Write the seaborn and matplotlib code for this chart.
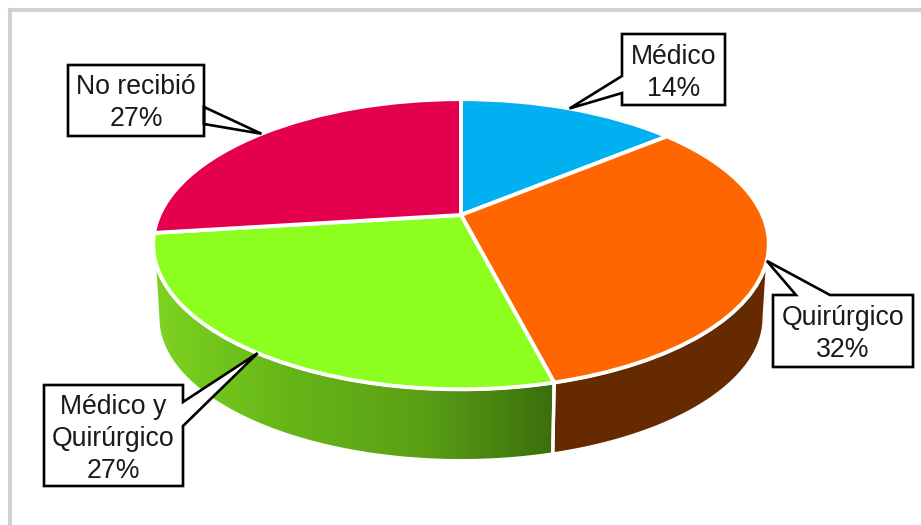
import matplotlib
matplotlib.use("Agg")
import matplotlib.pyplot as plt
from matplotlib.patches import Polygon
from matplotlib.transforms import Transform
import numpy as np
import seaborn as sns

# Treatment received, share of patients (%)
categories = ["Médico", "Quirúrgico", "Médico y Quirúrgico", "No recibió"]
shares = [14, 32, 27, 27]
label_lines = ["Médico", "Quirúrgico", "Médico y\nQuirúrgico", "No recibió"]

top_colors = ["#00B0F0", "#FF6600", "#8DFF1E", "#E4004F"]
side_stops = [None, ["#662A00", "#662A00"], ["#7DD321", "#66B618", "#5BA015", "#3A6E0C"], None]

# Disc geometry in figure pixels
CX, CY = 461.0, 215.0
RX, RY = 301.5, 139.2
TILT = 0.2014
DEPTH, BASE_SCALE = 74.0, 0.985

# Callout boxes (left, top, right, bottom) and where each tail leaves its box
boxes = [(622, 34, 725, 105), (773, 295, 913, 367), (44, 385, 183, 486), (68, 65, 204, 136)]
tail_roots = [
    [(622, 93), (622, 76)],
    [(830, 295), (796, 295)],
    [(183, 426), (183, 402)],
    [(204, 107), (204, 124)],
]


def project(x, y, depth=0.0, scale=1.0):
    """Map unit-disc coordinates to the tilted disc seen in perspective."""
    x, y = np.asarray(x, float), np.asarray(y, float)
    w = 1.0 + TILT * y
    return CX + scale * RX * x / w, CY + depth - scale * RY * y / w


class DiscPerspective(Transform):
    input_dims = output_dims = 2
    is_separable = False

    def transform_non_affine(self, values):
        values = np.asarray(values, float)
        return np.column_stack(project(values[:, 0], values[:, 1]))


sns.set_theme(style="white")
plt.rcParams["font.family"] = ["Liberation Sans", "DejaVu Sans"]

fig = plt.figure(figsize=(9.21, 5.25), dpi=100, facecolor="white")
ax = fig.add_axes([10 / 921, 0, 911 / 921, 515 / 525])

# Top face of the pie
wedges, _ = ax.pie(
    shares,
    colors=top_colors,
    startangle=90,
    counterclock=False,
    labeldistance=None,
    wedgeprops={
        "edgecolor": "white",
        "linewidth": 2.8,
        "transform": DiscPerspective() + ax.transData,
        "zorder": 3,
    },
)

ax.set_aspect("auto")
ax.set_frame_on(True)

# Side wall, visible only along the front of the disc
front_from = -180.0 + np.degrees(np.arcsin(TILT))
front_to = -np.degrees(np.arcsin(TILT))
for wedge, stops in zip(wedges, side_stops):
    start, stop = max(wedge.theta1, front_from), min(wedge.theta2, front_to)
    if stops is None or start >= stop:
        continue
    theta = np.radians(np.linspace(start, stop, 120))
    xt, yt = project(np.cos(theta), np.sin(theta))
    xb, yb = project(np.cos(theta), np.sin(theta), DEPTH, BASE_SCALE)
    outline = np.column_stack([np.r_[xt, xb[::-1]], np.r_[yt, yb[::-1]]])
    cmap = sns.blend_palette(stops, as_cmap=True)
    image = ax.imshow(
        np.linspace(0, 1, 256)[None, :],
        cmap=cmap,
        aspect="auto",
        zorder=1,
        extent=(outline[:, 0].min(), outline[:, 0].max(), outline[:, 1].max(), outline[:, 1].min()),
    )
    image.set_clip_path(Polygon(outline, transform=ax.transData))
    ax.add_patch(Polygon(outline, closed=True, facecolor="none", edgecolor="white", linewidth=2.4, zorder=2))

# Callouts pointing at the rim in the middle of each slice
for wedge, share, text, box, roots in zip(wedges, shares, label_lines, boxes, tail_roots):
    mid = np.radians((wedge.theta1 + wedge.theta2) / 2)
    tip = tuple(float(v) for v in project(np.cos(mid), np.sin(mid)))
    left, top, right, bottom = box
    ring = [(left, top), (right, top), (right, bottom), (left, bottom)]

    # Insert the tail into the box edge it starts from
    a, b = roots
    if a[0] == left:
        outline = ring + [a, tip, b]
    elif a[0] == right:
        outline = ring[:2] + [b, tip, a] + ring[2:]
    else:
        outline = [ring[0], b, tip, a] + ring[1:]
    ax.add_patch(Polygon(outline, closed=True, facecolor="white", edgecolor="black",
                         linewidth=1.9, joinstyle="miter", zorder=5, clip_on=False))
    ax.text((left + right) / 2, (top + bottom) / 2 + 3, f"{text}\n{share}%",
            ha="center", va="center", fontsize=19.2, color="#1a1a1a",
            linespacing=1.3, zorder=6)

ax.set_xlim(10, 921)
ax.set_ylim(525, 10)
ax.set_xticks([])
ax.set_yticks([])

# Only the top and left frame lines are shown
sns.despine(ax=ax, right=True, bottom=True)
for side in ("top", "left"):
    ax.spines[side].set_visible(True)
    ax.spines[side].set_color("#D0D0D0")
    ax.spines[side].set_linewidth(2.9)
    ax.spines[side].set_zorder(0)

fig.savefig("out.png", dpi=100, facecolor="white")
